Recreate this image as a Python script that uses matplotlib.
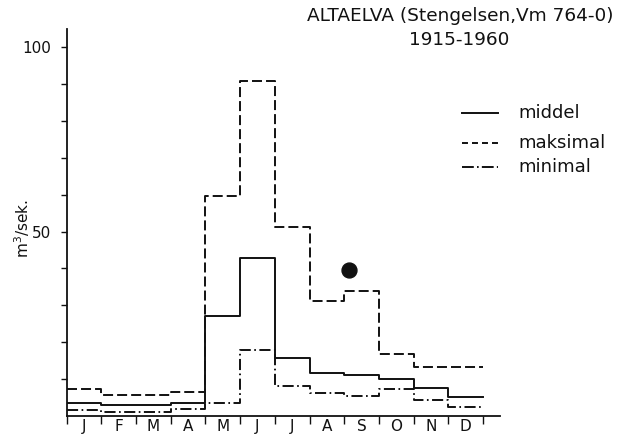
import numpy as np
import matplotlib
matplotlib.use('Agg')
import matplotlib.pyplot as plt
from matplotlib.lines import Line2D

# Data: monthly discharge (m3/s), Altaelva 1915-1960
months = ['J', 'F', 'M', 'A', 'M', 'J', 'J', 'A', 'S', 'O', 'N', 'D']
middel = [3.6, 3.0, 3.1, 3.5, 27.2, 42.8, 15.7, 11.8, 11.2, 10.0, 7.6, 5.3]
maksimal = [7.4, 5.7, 5.7, 6.5, 59.6, 90.8, 51.2, 31.3, 34.0, 16.8, 13.4, 13.4]
minimal = [1.7, 1.1, 1.1, 2.1, 3.5, 17.9, 8.2, 6.2, 5.5, 7.3, 4.4, 2.6]
marker_pt = (8.15, 39.6)  # single observation above September

INK = '#111111'
plt.rcParams.update({
    'font.family': 'DejaVu Sans',
    'lines.scale_dashes': False,
    'axes.edgecolor': INK,
    'xtick.color': INK,
    'ytick.color': INK,
})

W, H = 626, 442
fig = plt.figure(figsize=(W / 100, H / 100), dpi=100)
ax = fig.add_axes([66.7 / W, 1 - 416.3 / H, (500 - 66.7) / W, (416.3 - 29) / H])

STYLES = {
    'middel': dict(ls='-'),
    'maksimal': dict(ls=(0, (7.2, 2.9))),
    'minimal': dict(ls=(0, (8, 2.5, 1.2, 2.5))),
}

edges = np.arange(len(months) + 1)
for name, vals in [('middel', middel), ('maksimal', maksimal), ('minimal', minimal)]:
    ax.step(edges, vals + [vals[-1]], where='post', color=INK, lw=1.4,
            **STYLES[name])

ax.scatter([marker_pt[0]], [marker_pt[1]], s=115, color=INK, zorder=5)

ax.set_xlim(0, 12.49)
ax.set_ylim(0, 104.8)

for side in ['top', 'right']:
    ax.spines[side].set_visible(False)
for side in ['left', 'bottom']:
    ax.spines[side].set_linewidth(1.3)

# y ticks every 10, labels only at 50 and 100
ax.set_yticks(np.arange(10, 101, 10))
ax.set_yticklabels(['50' if v == 50 else '100' if v == 100 else '' for v in range(10, 101, 10)],
                   fontsize=11)
ax.tick_params(axis='y', direction='out', length=4, width=1, pad=7)

# x ticks at month boundaries, month letters centred between
ax.set_xticks(edges)
ax.set_xticklabels([])
ax.tick_params(axis='x', which='major', direction='out', length=6, width=1)
ax.set_xticks(edges[:-1] + 0.5, minor=True)
ax.set_xticklabels(months, minor=True, fontsize=11)
ax.tick_params(axis='x', which='minor', length=0, pad=2)

fig.text(22 / W, 1 - 229 / H, 'm$^3$/sek.', rotation=90, ha='center', va='center',
         fontsize=11, color=INK)

# title
fig.text(460 / W, 1 - 16 / H, 'ALTAELVA (Stengelsen,Vm 764-0)', ha='center', va='center',
         fontsize=13.3, color=INK)
fig.text(459 / W, 1 - 40 / H, '1915-1960', ha='center', va='center',
         fontsize=13.3, color=INK)

# legend, drawn by hand
leg_rows = [('middel', 113, '-'),
            ('maksimal', 143, (0, (4.3, 2.9))),
            ('minimal', 167, (0, (8.5, 2.3, 1.2, 2.3)))]
for label, ypx, ls in leg_rows:
    y = 1 - ypx / H
    fig.add_artist(Line2D([462 / W, 498 / W], [y, y], transform=fig.transFigure,
                          color=INK, lw=1.4, ls=ls))
    fig.text(518 / W, y, label, ha='left', va='center', fontsize=13, color=INK)

fig.savefig('out.png', dpi=100)
